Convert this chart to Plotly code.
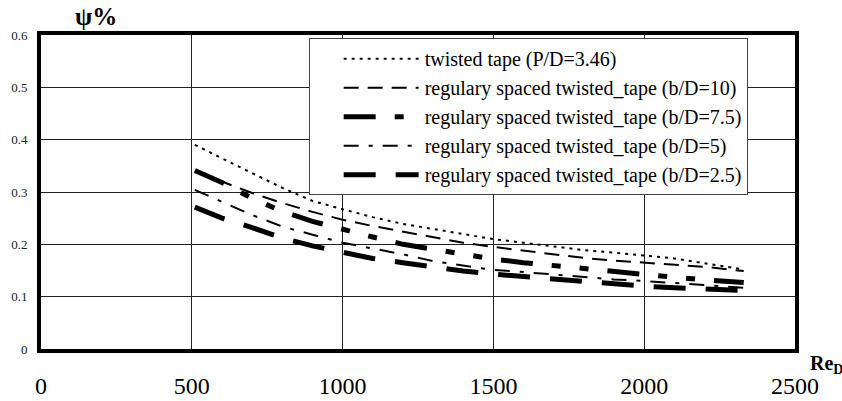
import plotly.graph_objects as go

re_d = [510, 600, 700, 800, 900, 1000, 1100, 1200, 1300, 1400, 1500,
        1600, 1700, 1800, 1900, 2000, 2100, 2200, 2330]

psi_tt_346 = [0.390, 0.364, 0.336, 0.308, 0.283, 0.267, 0.252, 0.239, 0.229, 0.219, 0.210,
              0.203, 0.196, 0.189, 0.184, 0.179, 0.173, 0.164, 0.152]
psi_bd_10 = [0.338, 0.320, 0.298, 0.279, 0.262, 0.247, 0.235, 0.224, 0.213, 0.203, 0.195,
             0.188, 0.181, 0.174, 0.169, 0.165, 0.161, 0.157, 0.149]
psi_bd_75 = [0.341, 0.318, 0.288, 0.263, 0.244, 0.228, 0.214, 0.200, 0.190, 0.181, 0.172,
             0.165, 0.159, 0.153, 0.147, 0.142, 0.137, 0.132, 0.127]
psi_bd_5 = [0.304, 0.281, 0.256, 0.234, 0.219, 0.203, 0.192, 0.181, 0.168, 0.159, 0.151,
            0.147, 0.142, 0.137, 0.133, 0.130, 0.126, 0.122, 0.117]
psi_bd_25 = [0.271, 0.250, 0.232, 0.212, 0.197, 0.184, 0.173, 0.165, 0.156, 0.149, 0.143,
             0.138, 0.133, 0.128, 0.124, 0.120, 0.117, 0.115, 0.112]

series_names = [
    "twisted tape (P/D=3.46)",
    "regulary spaced twisted_tape (b/D=10)",
    "regulary spaced twisted_tape (b/D=7.5)",
    "regulary spaced twisted_tape (b/D=5)",
    "regulary spaced twisted_tape (b/D=2.5)",
]
series_values = [psi_tt_346, psi_bd_10, psi_bd_75, psi_bd_5, psi_bd_25]

x_ticks = [0, 500, 1000, 1500, 2000, 2500]
y_ticks = [0, 0.1, 0.2, 0.3, 0.4, 0.5, 0.6]
y_tick_text = ["0", "0.1", "0.2", "0.3", "0.4", "0.5", "0.6"]

styles = [
    dict(width=2, dash="3px,5px"),
    dict(width=2, dash="15px,9px"),
    dict(width=5, dash="32px,19px,9px,19px,9px,19px"),
    dict(width=2, dash="15px,10px,4px,10px"),
    dict(width=5, dash="32px,20px"),
]

FONT = "Liberation Serif"

fig = go.Figure()
for i, (name, vals, st) in enumerate(zip(series_names, series_values, styles)):
    fig.add_trace(go.Scatter(
        x=re_d, y=vals, mode="lines", name=name, legendgroup=f"g{i}",
        line=dict(color="black", width=st["width"], dash=st["dash"]),
    ))

fig.update_layout(
    width=842, height=401,
    margin=dict(l=41, r=47, t=35, b=52, autoexpand=False),
    paper_bgcolor="white", plot_bgcolor="white",
    font=dict(family=FONT, color="black"),
    showlegend=True,
    legend=dict(
        x=0.355, y=0.99, xanchor="left", yanchor="top",
        bgcolor="white", bordercolor="#444", borderwidth=1,
        font=dict(family=FONT, size=20, color="black"),
        itemwidth=105, tracegroupgap=0,
    ),
    xaxis=dict(
        range=[0, 2500], tickvals=x_ticks, ticktext=[str(v) for v in x_ticks],
        showgrid=True, gridcolor="#222", gridwidth=1,
        showline=True, linecolor="black", linewidth=4, mirror=True,
        zeroline=False, ticks="", ticklabelstandoff=12, automargin=False,
        tickfont=dict(family=FONT, size=24, color="black"),
    ),
    yaxis=dict(
        range=[0, 0.6], tickvals=y_ticks, ticktext=y_tick_text,
        showgrid=True, gridcolor="#222", gridwidth=1,
        showline=True, linecolor="black", linewidth=4, mirror=True,
        zeroline=False, ticks="", ticklabelstandoff=7, automargin=False,
        tickfont=dict(family=FONT, size=13, color="#222"),
    ),
    annotations=[
        dict(text="<b>ψ%</b>", xref="paper", yref="paper", x=0.073, y=1.06,
             xanchor="center", yanchor="middle", showarrow=False,
             font=dict(family=FONT, size=25, color="black")),
        dict(text="<b>Re<sub>D</sub></b>", xref="paper", yref="paper", x=1.042, y=-0.05,
             xanchor="center", yanchor="middle", showarrow=False,
             font=dict(family=FONT, size=20, color="black")),
    ],
)

post = """
var gd = document.getElementsByClassName('plotly-graph-div')[0];
gd.querySelectorAll('.legend .legendlines path').forEach(function(p){ p.setAttribute('d','M34,0h75'); });
"""

fig.write_html("out.html", post_script=post)
